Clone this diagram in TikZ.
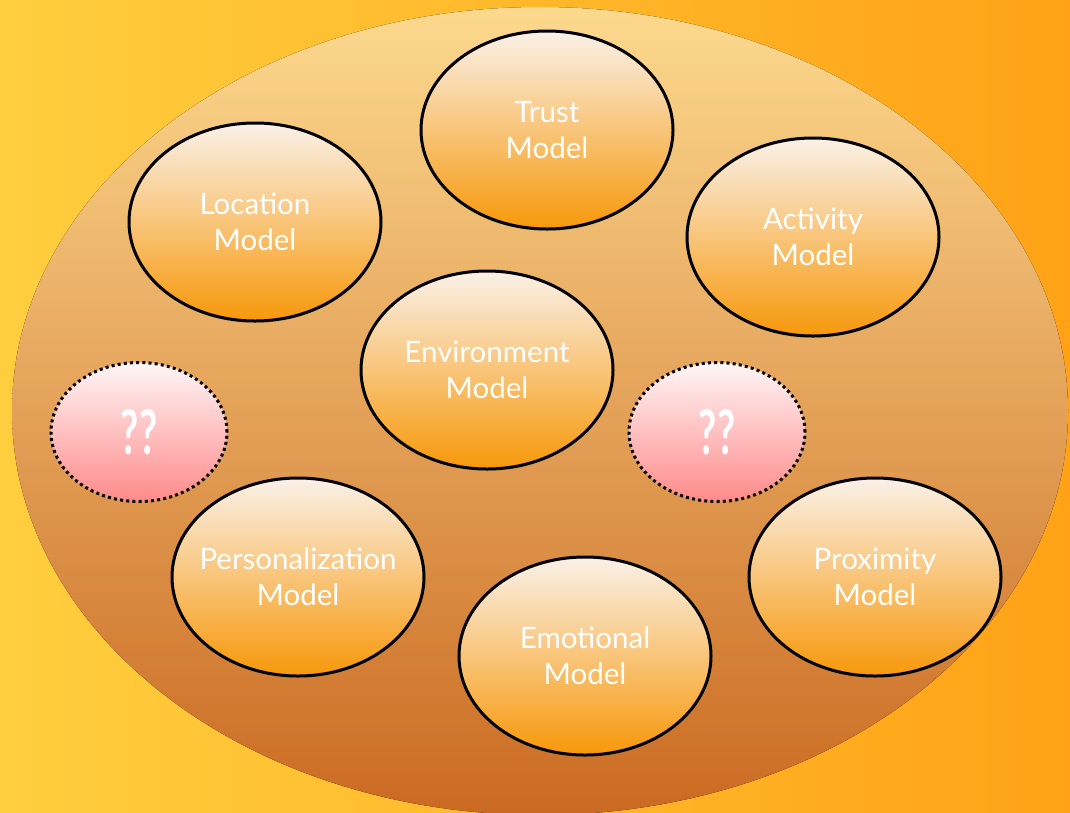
\documentclass[tikz,border=0pt]{standalone}
\usepackage{fontspec}
\setmainfont{Lato}
\usetikzlibrary{shapes.geometric,shadows}

\definecolor{bgyellow}{HTML}{FFCE3E}
\definecolor{bgorange}{HTML}{FFA216}
\definecolor{bigtop}{HTML}{FCD98E}
\definecolor{bigmid}{HTML}{E7B574}
\definecolor{bigbot}{HTML}{CB6A22}
\definecolor{modtop}{HTML}{FAF1E8}
\definecolor{modmid}{HTML}{F8C48A}
\definecolor{modbot}{HTML}{F7980A}
\definecolor{unktop}{HTML}{FFF6F7}
\definecolor{unkmid}{HTML}{FFC2C4}
\definecolor{unkbot}{HTML}{FF8A8A}

\tikzset{
  model/.style={ellipse, draw=black, line width=3pt,
    minimum width=252pt, minimum height=198pt,
    inner xsep=-30pt, inner ysep=0pt,
    top color=modtop, middle color=modmid, bottom color=modbot,
    drop shadow={shadow xshift=0pt, shadow yshift=-2pt, opacity=0.25},
    text=white, align=center, font=\fontsize{29.5}{36}\selectfont},
  unknown/.style={ellipse, draw=black, line width=3pt,
    dash pattern=on 3pt off 3.2pt,
    minimum width=176pt, minimum height=139pt, inner sep=0pt,
    top color=unktop, middle color=unkmid, bottom color=unkbot,
    text=white, font=\fontsize{44}{50}\selectfont\bfseries}
}

\begin{document}
\begin{tikzpicture}[x=1pt, y=-1pt]
  \useasboundingbox (0,0) rectangle (1070,812);
  \clip (0,0) rectangle (1070,812);
  % warm backdrop
  \fill[left color=bgyellow, right color=bgorange] (0,0) rectangle (1070,812);
  % large container ellipse
  \fill[top color=bigtop, middle color=bigmid, bottom color=bigbot]
    (540,411) ellipse [x radius=528, y radius=404];

  % model ellipses
  \node[model] (trust)    at (547,130) {Trust\\Model};
  \node[model] (location) at (255,222) {Location\\Model};
  \node[model] (activity) at (813,237) {Activity\\Model};
  \node[model] (environ)  at (487,370) {Environment\\Model};
  \node[model] (person)   at (298,577) {Personalization\\Model};
  \node[model] (emotion)  at (585,656) {Emotional\\Model};
  \node[model] (proxim)   at (875,577) {Proximity\\Model};

  % open slots
  \node[unknown] (unkleft)  at (139,432) {\scalebox{0.9}[1.4]{??}};
  \node[unknown] (unkright) at (717,432) {\scalebox{0.9}[1.4]{??}};
\end{tikzpicture}
\end{document}
